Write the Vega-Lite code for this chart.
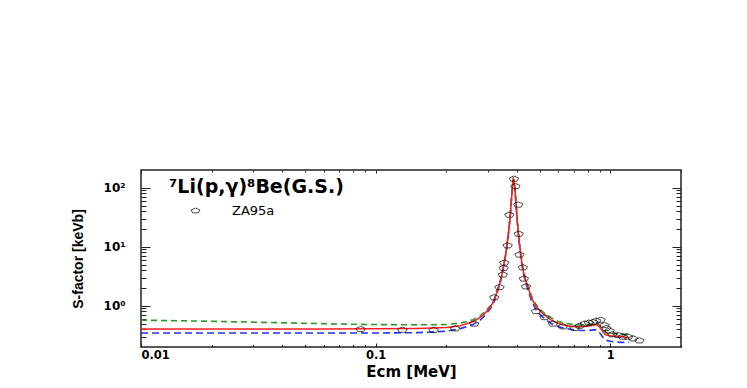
{
  "$schema": "https://vega.github.io/schema/vega-lite/v6.json",
  "width": 540,
  "height": 177,
  "autosize": {"type": "none"},
  "padding": {"left": 141, "top": 170, "right": 66, "bottom": 41},
  "background": "white",
  "config": {
    "view": {"stroke": "#222", "strokeWidth": 1.5},
    "font": "DejaVu Sans",
    "axis": {
      "grid": false,
      "domain": false,
      "labelFont": "DejaVu Sans",
      "labelFontWeight": "bold",
      "labelFontSize": 12,
      "labelColor": "black",
      "tickColor": "#222",
      "tickWidth": 1,
      "titleFont": "DejaVu Sans",
      "titleFontWeight": "bold",
      "titleColor": "black"
    }
  },
  "datasets": {
    "curves": [
      {"E": 0.01, "S": 0.404, "model": "A"}, {"E": 0.03, "S": 0.404, "model": "A"}, {"E": 0.06, "S": 0.405, "model": "A"}, {"E": 0.1, "S": 0.407, "model": "A"}, {"E": 0.15, "S": 0.413, "model": "A"}, {"E": 0.2, "S": 0.428, "model": "A"}, {"E": 0.23, "S": 0.46, "model": "A"}, {"E": 0.26, "S": 0.54, "model": "A"}, {"E": 0.28, "S": 0.64, "model": "A"}, {"E": 0.295, "S": 0.78, "model": "A"}, {"E": 0.31, "S": 0.98, "model": "A"}, {"E": 0.32, "S": 1.25, "model": "A"}, {"E": 0.33, "S": 1.8, "model": "A"}, {"E": 0.34, "S": 2.6, "model": "A"}, {"E": 0.35, "S": 4.5, "model": "A"}, {"E": 0.36, "S": 8.5, "model": "A"}, {"E": 0.368, "S": 17, "model": "A"}, {"E": 0.374, "S": 32, "model": "A"}, {"E": 0.379, "S": 65, "model": "A"}, {"E": 0.383, "S": 110, "model": "A"}, {"E": 0.386, "S": 140, "model": "A"}, {"E": 0.389, "S": 130, "model": "A"}, {"E": 0.392, "S": 95, "model": "A"}, {"E": 0.396, "S": 58, "model": "A"}, {"E": 0.4, "S": 32, "model": "A"}, {"E": 0.405, "S": 18, "model": "A"}, {"E": 0.41, "S": 11, "model": "A"}, {"E": 0.418, "S": 6, "model": "A"}, {"E": 0.425, "S": 4, "model": "A"}, {"E": 0.435, "S": 2.7, "model": "A"}, {"E": 0.445, "S": 2.1, "model": "A"}, {"E": 0.46, "S": 1.4, "model": "A"}, {"E": 0.48, "S": 1.0, "model": "A"}, {"E": 0.5, "S": 0.82, "model": "A"}, {"E": 0.525, "S": 0.69, "model": "A"}, {"E": 0.56, "S": 0.57, "model": "A"}, {"E": 0.6, "S": 0.5, "model": "A"}, {"E": 0.65, "S": 0.46, "model": "A"}, {"E": 0.7, "S": 0.44, "model": "A"}, {"E": 0.75, "S": 0.44, "model": "A"}, {"E": 0.8, "S": 0.45, "model": "A"}, {"E": 0.85, "S": 0.47, "model": "A"}, {"E": 0.875, "S": 0.48, "model": "A"}, {"E": 0.9, "S": 0.44, "model": "A"}, {"E": 0.93, "S": 0.36, "model": "A"}, {"E": 0.96, "S": 0.32, "model": "A"}, {"E": 1.0, "S": 0.31, "model": "A"}, {"E": 1.1, "S": 0.3, "model": "A"}, {"E": 1.2, "S": 0.29, "model": "A"},
      {"E": 0.01, "S": 0.57, "model": "B"}, {"E": 0.02, "S": 0.545, "model": "B"}, {"E": 0.04, "S": 0.515, "model": "B"}, {"E": 0.07, "S": 0.49, "model": "B"}, {"E": 0.1, "S": 0.48, "model": "B"}, {"E": 0.15, "S": 0.475, "model": "B"}, {"E": 0.2, "S": 0.48, "model": "B"}, {"E": 0.23, "S": 0.51, "model": "B"}, {"E": 0.26, "S": 0.58, "model": "B"}, {"E": 0.28, "S": 0.68, "model": "B"}, {"E": 0.295, "S": 0.83, "model": "B"}, {"E": 0.31, "S": 1.03, "model": "B"}, {"E": 0.32, "S": 1.3, "model": "B"}, {"E": 0.33, "S": 1.85, "model": "B"}, {"E": 0.34, "S": 2.7, "model": "B"}, {"E": 0.35, "S": 4.6, "model": "B"}, {"E": 0.36, "S": 8.7, "model": "B"}, {"E": 0.368, "S": 17.5, "model": "B"}, {"E": 0.374, "S": 33, "model": "B"}, {"E": 0.379, "S": 66, "model": "B"}, {"E": 0.383, "S": 110, "model": "B"}, {"E": 0.386, "S": 140, "model": "B"}, {"E": 0.389, "S": 130, "model": "B"}, {"E": 0.392, "S": 96, "model": "B"}, {"E": 0.396, "S": 59, "model": "B"}, {"E": 0.4, "S": 33, "model": "B"}, {"E": 0.405, "S": 18.5, "model": "B"}, {"E": 0.41, "S": 11.5, "model": "B"}, {"E": 0.418, "S": 6.3, "model": "B"}, {"E": 0.425, "S": 4.2, "model": "B"}, {"E": 0.435, "S": 2.85, "model": "B"}, {"E": 0.445, "S": 2.2, "model": "B"}, {"E": 0.46, "S": 1.5, "model": "B"}, {"E": 0.48, "S": 1.07, "model": "B"}, {"E": 0.5, "S": 0.88, "model": "B"}, {"E": 0.525, "S": 0.74, "model": "B"}, {"E": 0.56, "S": 0.62, "model": "B"}, {"E": 0.6, "S": 0.54, "model": "B"}, {"E": 0.65, "S": 0.5, "model": "B"}, {"E": 0.7, "S": 0.48, "model": "B"}, {"E": 0.75, "S": 0.47, "model": "B"}, {"E": 0.8, "S": 0.48, "model": "B"}, {"E": 0.85, "S": 0.5, "model": "B"}, {"E": 0.875, "S": 0.51, "model": "B"}, {"E": 0.9, "S": 0.46, "model": "B"}, {"E": 0.93, "S": 0.38, "model": "B"}, {"E": 0.96, "S": 0.35, "model": "B"}, {"E": 1.0, "S": 0.34, "model": "B"}, {"E": 1.1, "S": 0.33, "model": "B"}, {"E": 1.2, "S": 0.33, "model": "B"},
      {"E": 0.01, "S": 0.345, "model": "C"}, {"E": 0.05, "S": 0.345, "model": "C"}, {"E": 0.1, "S": 0.345, "model": "C"}, {"E": 0.15, "S": 0.35, "model": "C"}, {"E": 0.2, "S": 0.37, "model": "C"}, {"E": 0.23, "S": 0.41, "model": "C"}, {"E": 0.26, "S": 0.48, "model": "C"}, {"E": 0.28, "S": 0.58, "model": "C"}, {"E": 0.295, "S": 0.72, "model": "C"}, {"E": 0.31, "S": 0.92, "model": "C"}, {"E": 0.32, "S": 1.18, "model": "C"}, {"E": 0.33, "S": 1.7, "model": "C"}, {"E": 0.34, "S": 2.5, "model": "C"}, {"E": 0.35, "S": 4.3, "model": "C"}, {"E": 0.36, "S": 8.2, "model": "C"}, {"E": 0.368, "S": 16.5, "model": "C"}, {"E": 0.374, "S": 31, "model": "C"}, {"E": 0.379, "S": 64, "model": "C"}, {"E": 0.383, "S": 109, "model": "C"}, {"E": 0.386, "S": 139, "model": "C"}, {"E": 0.389, "S": 128, "model": "C"}, {"E": 0.392, "S": 93, "model": "C"}, {"E": 0.396, "S": 56, "model": "C"}, {"E": 0.4, "S": 31, "model": "C"}, {"E": 0.405, "S": 17, "model": "C"}, {"E": 0.41, "S": 10.5, "model": "C"}, {"E": 0.418, "S": 5.6, "model": "C"}, {"E": 0.425, "S": 3.7, "model": "C"}, {"E": 0.435, "S": 2.5, "model": "C"}, {"E": 0.445, "S": 1.9, "model": "C"}, {"E": 0.46, "S": 1.25, "model": "C"}, {"E": 0.48, "S": 0.88, "model": "C"}, {"E": 0.5, "S": 0.72, "model": "C"}, {"E": 0.525, "S": 0.6, "model": "C"}, {"E": 0.56, "S": 0.5, "model": "C"}, {"E": 0.6, "S": 0.44, "model": "C"}, {"E": 0.65, "S": 0.41, "model": "C"}, {"E": 0.7, "S": 0.39, "model": "C"}, {"E": 0.75, "S": 0.38, "model": "C"}, {"E": 0.8, "S": 0.38, "model": "C"}, {"E": 0.85, "S": 0.39, "model": "C"}, {"E": 0.875, "S": 0.39, "model": "C"}, {"E": 0.9, "S": 0.35, "model": "C"}, {"E": 0.93, "S": 0.29, "model": "C"}, {"E": 0.96, "S": 0.26, "model": "C"}, {"E": 1.0, "S": 0.25, "model": "C"}, {"E": 1.1, "S": 0.24, "model": "C"}, {"E": 1.2, "S": 0.24, "model": "C"}
    ],
    "points": [
      {"E": 0.0863, "S": 0.404, "set": "ZA95a"}, {"E": 0.13, "S": 0.394, "set": "ZA95a"}, {"E": 0.1765, "S": 0.39, "set": "ZA95a"}, {"E": 0.218, "S": 0.415, "set": "ZA95a"}, {"E": 0.263, "S": 0.5, "set": "ZA95a"}, {"E": 0.32, "S": 1.4, "set": "ZA95a"}, {"E": 0.337, "S": 2.08, "set": "ZA95a"}, {"E": 0.348, "S": 3.4, "set": "ZA95a"}, {"E": 0.351, "S": 4.4, "set": "ZA95a"}, {"E": 0.353, "S": 5.4, "set": "ZA95a"}, {"E": 0.365, "S": 10.6, "set": "ZA95a"}, {"E": 0.371, "S": 35, "set": "ZA95a"}, {"E": 0.388, "S": 143, "set": "ZA95a"}, {"E": 0.394, "S": 107, "set": "ZA95a"}, {"E": 0.405, "S": 52, "set": "ZA95a"}, {"E": 0.407, "S": 16.7, "set": "ZA95a"}, {"E": 0.41, "S": 7.4, "set": "ZA95a"}, {"E": 0.424, "S": 4.5, "set": "ZA95a"}, {"E": 0.428, "S": 2.9, "set": "ZA95a"}, {"E": 0.437, "S": 2.14, "set": "ZA95a"}, {"E": 0.483, "S": 0.815, "set": "ZA95a"}, {"E": 0.524, "S": 0.644, "set": "ZA95a"}, {"E": 0.569, "S": 0.5, "set": "ZA95a"}, {"E": 0.628, "S": 0.449, "set": "ZA95a"}, {"E": 0.704, "S": 0.42, "set": "ZA95a"}, {"E": 0.74, "S": 0.46, "set": "ZA95a"}, {"E": 0.777, "S": 0.5, "set": "ZA95a"}, {"E": 0.81, "S": 0.52, "set": "ZA95a"}, {"E": 0.843, "S": 0.53, "set": "ZA95a"}, {"E": 0.87, "S": 0.56, "set": "ZA95a"}, {"E": 0.909, "S": 0.58, "set": "ZA95a"}, {"E": 0.945, "S": 0.47, "set": "ZA95a"}, {"E": 0.96, "S": 0.42, "set": "ZA95a"}, {"E": 0.993, "S": 0.38, "set": "ZA95a"}, {"E": 1.02, "S": 0.33, "set": "ZA95a"}, {"E": 1.08, "S": 0.32, "set": "ZA95a"}, {"E": 1.13, "S": 0.3, "set": "ZA95a"}, {"E": 1.19, "S": 0.3, "set": "ZA95a"}, {"E": 1.25, "S": 0.28, "set": "ZA95a"}, {"E": 1.33, "S": 0.26, "set": "ZA95a"}
    ]
  },
  "layer": [
    {
      "data": {"name": "curves"},
      "transform": [{"filter": "datum.model === 'C'"}],
      "mark": {"type": "line", "color": "#1f35f0", "strokeWidth": 1.6, "strokeDash": [7, 4], "clip": true},
      "encoding": {
        "x": {"field": "E", "type": "quantitative", "scale": {"type": "log", "domain": [0.01, 2], "nice": false},
          "axis": {"orient": "bottom", "values": [0.01, 0.1, 1], "tickSize": -4, "labelExpr": "format(datum.value, '~g')", "labelPadding": 6, "labelFontSize": 11.5, "title": "Ecm [MeV]", "titleFontSize": 15, "titlePadding": 4}},
        "y": {"field": "S", "type": "quantitative", "scale": {"type": "log", "domain": [0.2, 200], "nice": false},
          "axis": {"orient": "left", "values": [1, 10, 100], "tickSize": -9, "labelExpr": "datum.value == 1 ? '10⁰' : datum.value == 10 ? '10¹' : '10²'", "labelPadding": 25, "labelFontSize": 12, "title": "S-factor [keVb]", "titleFont": "Liberation Sans", "titleFontSize": 14, "titlePadding": 18}}
      }
    },
    {
      "data": {"name": "curves"},
      "transform": [{"filter": "datum.model === 'B'"}],
      "mark": {"type": "line", "color": "#2a9a2a", "strokeWidth": 1.6, "strokeDash": [6, 4], "clip": true},
      "encoding": {
        "x": {"field": "E", "type": "quantitative", "scale": {"type": "log", "domain": [0.01, 2], "nice": false},
          "axis": {"orient": "bottom", "values": [0.02, 0.03, 0.04, 0.05, 0.06, 0.07, 0.08, 0.09, 0.2, 0.3, 0.4, 0.5, 0.6, 0.7, 0.8, 0.9, 2], "tickSize": -2.5, "labels": false, "title": null}},
        "y": {"field": "S", "type": "quantitative", "scale": {"type": "log", "domain": [0.2, 200], "nice": false},
          "axis": {"orient": "left", "values": [0.3, 0.4, 0.5, 0.6, 0.7, 0.8, 0.9, 2, 3, 4, 5, 6, 7, 8, 9, 20, 30, 40, 50, 60, 70, 80, 90], "tickSize": -5, "labels": false, "title": null}}
      }
    },
    {
      "data": {"name": "curves"},
      "transform": [{"filter": "datum.model === 'A'"}],
      "mark": {"type": "line", "color": "#ff2020", "strokeWidth": 1.5, "clip": true},
      "encoding": {
        "x": {"field": "E", "type": "quantitative", "scale": {"type": "log", "domain": [0.01, 2], "nice": false},
          "axis": {"orient": "top", "values": [0.01, 0.1, 1], "tickSize": -3, "labels": false, "title": null}},
        "y": {"field": "S", "type": "quantitative", "scale": {"type": "log", "domain": [0.2, 200], "nice": false},
          "axis": {"orient": "right", "values": [1, 10, 100], "tickSize": -9, "labels": false, "title": null}}
      }
    },
    {
      "data": {"name": "points"},
      "mark": {"type": "point", "filled": false, "stroke": "black", "strokeWidth": 1, "size": 90, "clip": true},
      "encoding": {
        "x": {"field": "E", "type": "quantitative", "scale": {"type": "log", "domain": [0.01, 2], "nice": false},
          "axis": {"orient": "top", "values": [0.02, 0.03, 0.04, 0.05, 0.06, 0.07, 0.08, 0.09, 0.2, 0.3, 0.4, 0.5, 0.6, 0.7, 0.8, 0.9, 2], "tickSize": -2, "labels": false, "title": null}},
        "y": {"field": "S", "type": "quantitative", "scale": {"type": "log", "domain": [0.2, 200], "nice": false},
          "axis": {"orient": "right", "values": [0.3, 0.4, 0.5, 0.6, 0.7, 0.8, 0.9, 2, 3, 4, 5, 6, 7, 8, 9, 20, 30, 40, 50, 60, 70, 80, 90], "tickSize": -5, "labels": false, "title": null}},
        "shape": {"field": "set", "type": "nominal",
          "scale": {"range": ["M0,-0.55L1,-0.12L0.62,0.55L-0.62,0.55L-1,-0.12Z"]},
          "legend": {"orient": "none", "legendX": 28, "legendY": 8, "title": "⁷Li(p,γ)⁸Be(G.S.)", "titleFont": "DejaVu Sans", "titleFontSize": 19, "titleFontWeight": "bold", "titleColor": "black", "titlePadding": 7, "labelFont": "DejaVu Sans", "labelFontSize": 13, "labelColor": "black", "symbolOffset": 20, "labelOffset": 30, "symbolSize": 80, "symbolStrokeColor": "black", "symbolFillColor": "transparent", "symbolStrokeWidth": 1}}
      }
    }
  ],
  "resolve": {"axis": {"x": "independent", "y": "independent"}}
}
